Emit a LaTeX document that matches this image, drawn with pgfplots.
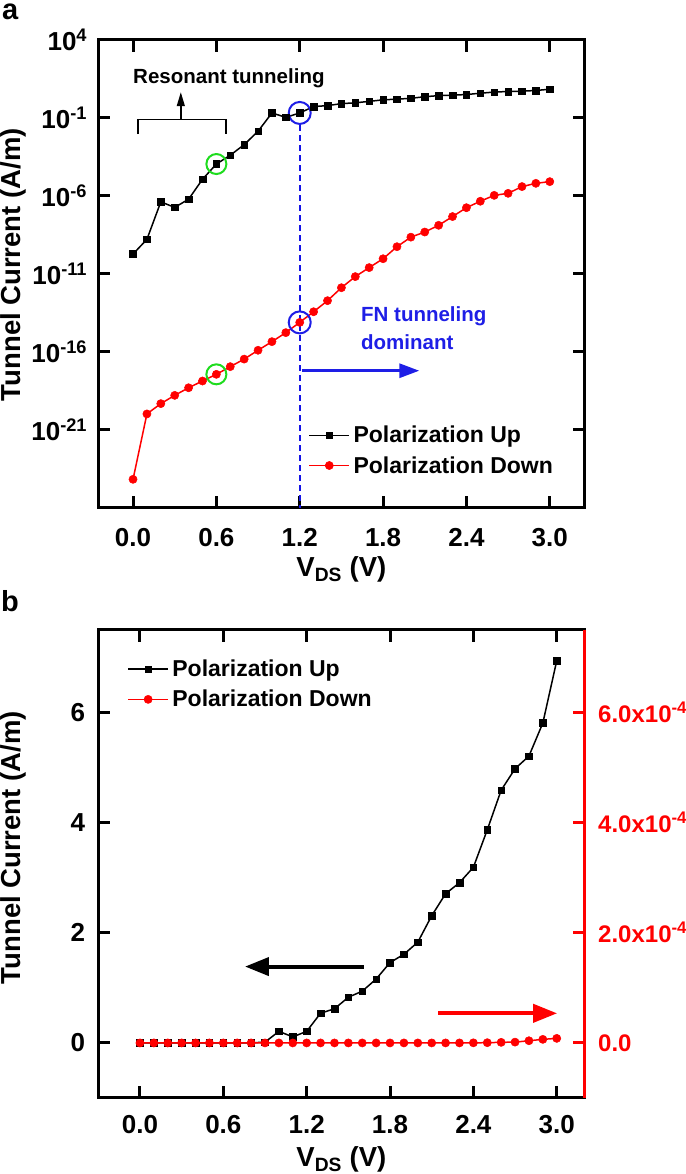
\documentclass[border=0pt]{standalone}
\usepackage{pgfplots}
\usepackage{pgfplotstable}
\pgfplotsset{compat=1.18}
\usepackage{fontspec}
\setmainfont{Liberation Sans}
\usetikzlibrary{arrows.meta}
\definecolor{myred}{RGB}{255,0,0}
\definecolor{myblue}{RGB}{30,30,230}
\definecolor{dashblue}{RGB}{20,20,230}
\definecolor{mygreen}{RGB}{30,220,30}
\newcommand{\fsz}[1]{\fontsize{#1}{#1}\selectfont\bfseries}

\pgfplotstableread{
x y
0.0 1.9e-10
0.1 1.66e-9
0.2 4.2e-7
0.3 1.86e-7
0.4 6.2e-7
0.5 1.17e-5
0.6 1.12e-4
0.7 4.1e-4
0.8 1.95e-3
0.9 1.41e-2
1.0 0.21
1.1 0.11
1.2 0.21
1.3 0.54
1.4 0.62
1.5 0.83
1.6 0.94
1.7 1.16
1.8 1.46
1.9 1.61
2.0 1.83
2.1 2.31
2.2 2.71
2.3 2.91
2.4 3.19
2.5 3.87
2.6 4.59
2.7 4.98
2.8 5.21
2.9 5.81
3.0 6.94
}\upData

\pgfplotstableread{
x y
0.0 6.9e-25
0.1 1.07e-20
0.2 4.9e-20
0.3 1.66e-19
0.4 5.1e-19
0.5 1.38e-18
0.6 3.7e-18
0.7 1.15e-17
0.8 3.5e-17
0.9 1.29e-16
1.0 4.6e-16
1.1 1.74e-15
1.2 7.9e-15
1.3 3.8e-14
1.4 1.95e-13
1.5 1.32e-12
1.6 6.8e-12
1.7 2.57e-11
1.8 9.5e-11
1.9 5.6e-10
2.0 2.3e-9
2.1 4.9e-9
2.2 1.32e-8
2.3 4.8e-8
2.4 1.78e-7
2.5 4.6e-7
2.6 1.1e-6
2.7 1.48e-6
2.8 4.0e-6
2.9 6.5e-6
3.0 8.3e-6
}\downData

\pgfplotsset{
  common/.style={
    scale only axis, width=486.2pt, height=468pt, anchor=south west,
    tick align=inside, major tick length=12pt,
    tick style={black, line width=3pt},
    axis line style={line width=3pt},
    xminorticks=false, yminorticks=false,
    tick label style={font=\fsz{26pt}, inner sep=0pt},
    xtick={0,0.6,1.2,1.8,2.4,3.0},
    xticklabels={0.0,0.6,1.2,1.8,2.4,3.0},
    xlabel={V\textsubscript{DS} (V)},
    ylabel={Tunnel Current (A/m)},
    xlabel style={font=\fsz{27.5pt}, at={(axis description cs:0.5,-0.103)}, anchor=north, inner sep=0pt},
    legend cell align=left,
    legend image code/.code={\draw[mark repeat=2,mark phase=2] plot coordinates {(0pt,0pt) (20pt,0pt) (40pt,0pt)};},
  },
  upstyle/.style={black, line width=1.5pt, mark=square*, mark size=3.3pt, mark options={line width=0.5pt}},
  downstyle/.style={myred, line width=1.5pt, mark=*, mark size=4.1pt, mark options={line width=0.5pt}},
}

\begin{document}
\begin{tikzpicture}
\useasboundingbox (0pt,0pt) rectangle (685pt,1174pt);
\clip (0pt,0pt) rectangle (685pt,1174pt);

\node[anchor=base west, font=\fsz{29pt}, inner sep=0pt] at (2pt,1154.5pt) {a};
\node[anchor=base west, font=\fsz{29pt}, inner sep=0pt] at (1pt,562pt) {b};

% ---------------- panel a
\begin{axis}[common,
  at={(98.3pt,666pt)},
  xmin=-0.25, xmax=3.25, ymode=log, ymin=1e-26, ymax=1e4,
  ytick={1e-21,1e-16,1e-11,1e-6,1e-1,1e4},
  yticklabels={10\textsuperscript{-21},10\textsuperscript{-16},10\textsuperscript{-11},10\textsuperscript{-6},10\textsuperscript{-1},10\textsuperscript{4}},
  xticklabel style={yshift=-20pt},
  yticklabel style={xshift=-11pt},
  ylabel style={font=\fsz{27.5pt}, at={(axis description cs:-0.174,0.52)}, anchor=center, inner sep=0pt},
  legend style={draw=none, fill=none, font=\fsz{23pt}, at={(0.432,0.123)}, anchor=west, inner sep=0pt,
    nodes={inner xsep=3.5pt, inner ysep=1pt}, row sep=10pt},
]
\addplot[upstyle] table {\upData};
\addlegendentry{Polarization Up}
\addplot[downstyle] table {\downData};
\addlegendentry{Polarization Down}

\draw[dashblue, line width=2pt, dash pattern=on 6pt off 4pt] (axis cs:1.2,0.035) -- (axis cs:1.2,1e-26);
\draw[mygreen, line width=2pt] (axis cs:0.6,1.12e-4) circle[radius=10pt];
\draw[mygreen, line width=2pt] (axis cs:0.6,3.7e-18) circle[radius=10pt];
\draw[myblue, line width=2pt] (axis cs:1.2,0.21) circle[radius=11pt];
\draw[myblue, line width=2pt] (axis cs:1.2,7.9e-15) circle[radius=11pt];

\draw[black, line width=1.4pt] (axis cs:0.037,0.00933) -- (axis cs:0.037,0.0832) -- (axis cs:0.669,0.0832) -- (axis cs:0.669,0.00933);
\draw[black, line width=1.4pt, -{Triangle[length=14pt,width=8pt]}] (axis cs:0.344,0.0832) -- (axis cs:0.344,4.47);
\node[anchor=base west, inner sep=0pt, font=\fsz{20.5pt}] at (axis cs:0.0,16.6) {Resonant tunneling};

\node[anchor=base west, inner sep=0pt, font=\fsz{20.5pt}, text=myblue] at (axis cs:1.641,8.7e-15) {FN tunneling};
\node[anchor=base west, inner sep=0pt, font=\fsz{20.5pt}, text=myblue] at (axis cs:1.641,1.48e-16) {dominant};
\draw[myblue, line width=3pt, -{Triangle[length=20pt,width=14pt]}] (axis cs:1.214,6.3e-18) -- (axis cs:2.061,6.3e-18);
\end{axis}

% ---------------- panel b (left axis)
\begin{axis}[common,
  at={(98.3pt,76pt)},
  xmin=-0.3, xmax=3.2, ymin=-1, ymax=7.5,
  ytick={0,2,4,6}, yticklabels={0,2,4,6}, ytick pos=left,
  xticklabel style={yshift=-16.7pt},
  yticklabel style={xshift=-13pt},
  ylabel style={font=\fsz{27.5pt}, at={(axis description cs:-0.174,0.535)}, anchor=center, inner sep=0pt},
  legend style={draw=none, fill=none, font=\fsz{23pt}, at={(0.0594,0.884)}, anchor=west, inner sep=0pt,
    nodes={inner xsep=3.5pt, inner ysep=1pt}, row sep=10pt},
]
\addplot[upstyle] table {\upData};
\addlegendentry{Polarization Up}
\addlegendimage{downstyle}
\addlegendentry{Polarization Down}
\draw[black, line width=4pt, -{Triangle[length=24pt,width=18pt]}] (axis cs:1.61,1.387) -- (axis cs:0.756,1.387);
\draw[myred, line width=4pt, -{Triangle[length=24pt,width=18pt]}] (axis cs:2.147,0.538) -- (axis cs:3.003,0.538);
\end{axis}

% ---------------- panel b (right axis)
\begin{axis}[
  scale only axis, width=486.2pt, height=468pt, anchor=south west,
  at={(98.3pt,76pt)},
  xmin=-0.3, xmax=3.2, ymin=-1e-4, ymax=7.5e-4,
  axis x line=none, axis y line*=right,
  tick align=inside, major tick length=12pt,
  ytick={0,2e-4,4e-4,6e-4},
  yticklabels={0.0,2.0x10\textsuperscript{-4},4.0x10\textsuperscript{-4},6.0x10\textsuperscript{-4}},
  scaled y ticks=false, yminorticks=false,
  y axis line style={myred, line width=3pt, -},
  ytick style={myred, line width=3pt},
  yticklabel style={text=myred, font=\fsz{24pt}, inner sep=0pt, xshift=13.5pt},
]
\addplot[downstyle] table {\downData};
\end{axis}
\end{tikzpicture}
\end{document}
